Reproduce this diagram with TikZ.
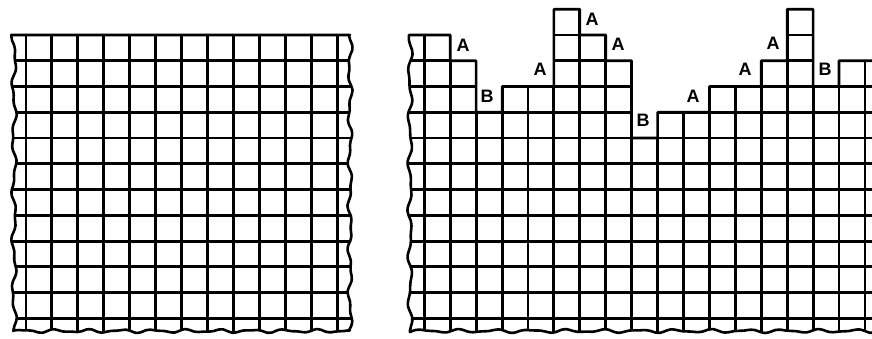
\documentclass[tikz,border=0pt]{standalone}
\usepackage{fontspec}
\newfontfamily\lblfont{Liberation Sans}
\newcommand\colx[1]{(424.3+25.92*(#1))}
\newcommand\lcolx[1]{(26+25.94*(#1))}
\newcommand\rowy[1]{(35+25.76*(#1))}
\tikzset{
  gridline/.style={line width=2.9pt, black},
  edgeline/.style={line width=2.6pt, black, line join=round},
  lbl/.style={font=\lblfont\bfseries\fontsize{18}{18}\selectfont, inner sep=0pt}
}
\begin{document}
\begin{tikzpicture}[x=1pt,y=-1pt]
\useasboundingbox (0,0) rectangle (872,338);
% ---------- left grid ----------
\def\leftoutline{(350,35) -- (14,35) -- plot[variable=\t,domain=35:331,samples=60,smooth] ({14+1.8*sin(7*\t+20)+1.0*sin(16*\t+50)},{\t})
  -- plot[variable=\t,domain=14:350,samples=70,smooth] ({\t},{331+1.3*sin(11*\t+20)+0.7*sin(19*\t)})
  -- plot[variable=\t,domain=331:35,samples=60,smooth] ({350+1.6*sin(8*\t+70)+1.0*sin(17*\t)},{\t})}
\begin{scope}
\clip \leftoutline -- cycle;
\foreach \k in {0,...,11} \draw[gridline] (0,{\rowy{\k}}) -- (360,{\rowy{\k}});
\foreach \j in {0,...,12} \draw[gridline] ({\lcolx{\j}},30) -- ({\lcolx{\j}},340);
\end{scope}
\draw[edgeline] \leftoutline -- cycle;
% ---------- right grid ----------
\def\profile{(875,{\rowy{1}}) -- ({\colx{16}},{\rowy{1}}) -- ({\colx{16}},{\rowy{2}}) -- ({\colx{15}},{\rowy{2}})
  -- ({\colx{15}},{\rowy{-1}}) -- ({\colx{14}},{\rowy{-1}}) -- ({\colx{14}},{\rowy{1}}) -- ({\colx{13}},{\rowy{1}})
  -- ({\colx{13}},{\rowy{2}}) -- ({\colx{11}},{\rowy{2}}) -- ({\colx{11}},{\rowy{3}}) -- ({\colx{9}},{\rowy{3}})
  -- ({\colx{9}},{\rowy{4}}) -- ({\colx{8}},{\rowy{4}}) -- ({\colx{8}},{\rowy{1}}) -- ({\colx{7}},{\rowy{1}})
  -- ({\colx{7}},{\rowy{0}}) -- ({\colx{6}},{\rowy{0}}) -- ({\colx{6}},{\rowy{-1}}) -- ({\colx{5}},{\rowy{-1}})
  -- ({\colx{5}},{\rowy{2}}) -- ({\colx{3}},{\rowy{2}}) -- ({\colx{3}},{\rowy{3}}) -- ({\colx{2}},{\rowy{3}})
  -- ({\colx{2}},{\rowy{1}}) -- ({\colx{1}},{\rowy{1}}) -- ({\colx{1}},{\rowy{0}}) -- (410,{\rowy{0}})
  -- plot[variable=\t,domain=35:331,samples=60,smooth] ({410+1.7*sin(8*\t+30)+0.9*sin(15*\t)},{\t})
  -- plot[variable=\t,domain=410:875,samples=90,smooth] ({\t},{331+1.3*sin(10*\t)+0.7*sin(17*\t+40)})}
\begin{scope}
\clip \profile -- cycle;
\foreach \k in {0,...,11} \draw[gridline] (400,{\rowy{\k}}) -- (880,{\rowy{\k}});
\foreach \j in {0,...,17} \draw[gridline] ({\colx{\j}},0) -- ({\colx{\j}},340);
\end{scope}
\draw[edgeline] \profile;
% ---------- labels ----------
\node[lbl] (a1) at (463,45) {A};
\node[lbl] (b1) at (487,96) {B};
\node[lbl] (a2) at (540,69) {A};
\node[lbl] (a3) at (592,19) {A};
\node[lbl] (a4) at (618,44) {A};
\node[lbl] (b2) at (643,120) {B};
\node[lbl] (a5) at (693,96) {A};
\node[lbl] (a6) at (745,69) {A};
\node[lbl] (a7) at (773,43) {A};
\node[lbl] (b3) at (825,69) {B};
\end{tikzpicture}
\end{document}
